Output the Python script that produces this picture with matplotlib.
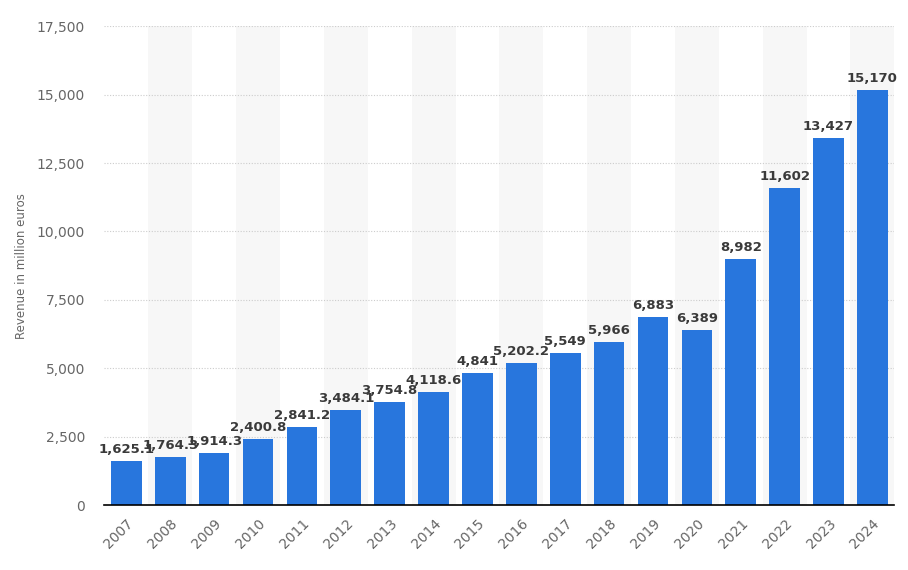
import matplotlib
matplotlib.use("Agg")
import matplotlib.pyplot as plt
import numpy as np

years = [str(y) for y in range(2007, 2025)]
revenue = [1625.1, 1764.3, 1914.3, 2400.8, 2841.2, 3484.1, 3754.8, 4118.6, 4841,
           5202.2, 5549, 5966, 6883, 6389, 8982, 11602, 13427, 15170]
labels = ["1,625.1", "1,764.3", "1,914.3", "2,400.8", "2,841.2", "3,484.1", "3,754.8",
          "4,118.6", "4,841", "5,202.2", "5,549", "5,966", "6,883", "6,389", "8,982",
          "11,602", "13,427", "15,170"]
yticks = [0, 2500, 5000, 7500, 10000, 12500, 15000, 17500]

plt.rcParams['font.family'] = ['DejaVu Sans']

fig = plt.figure(figsize=(9.08, 5.70), dpi=100)
ax = fig.add_axes([0.115, 0.114, 0.870, 0.840])

x = np.arange(len(years))

# light bands behind every other column
for i in x[1::2]:
    ax.axvspan(i - 0.5, i + 0.5, color='#f7f7f7', zorder=0, lw=0)

ax.bar(x, revenue, width=0.7, color='#2876dd', zorder=3)

for xi, v, s in zip(x, revenue, labels):
    ax.text(xi, v + 180, s, ha='center', va='bottom', fontsize=9.5,
            fontweight='bold', color='#3a3a3a', zorder=4)

ax.set_xlim(-0.5, len(years) - 0.5)
ax.set_ylim(0, 17500)
ax.set_yticks(yticks)
ax.set_yticklabels([f"{t:,}" for t in yticks])
ax.set_xticks(x)
ax.set_xticklabels(years, rotation=45, ha='right', rotation_mode='anchor')

ax.grid(axis='y', linestyle=(0, (1, 1.5)), color='#cccccc', linewidth=0.8, zorder=1)
ax.set_axisbelow(True)

for side in ['top', 'right', 'left']:
    ax.spines[side].set_visible(False)
ax.spines['bottom'].set_color('#000000')
ax.spines['bottom'].set_linewidth(1.2)
ax.spines['bottom'].set_zorder(5)

ax.tick_params(axis='both', length=0, labelsize=10, colors='#666666')
ax.tick_params(axis='y', pad=14)
ax.tick_params(axis='x', pad=8)

ax.set_ylabel('Revenue in million euros', fontsize=8.5, color='#666666', labelpad=6)

fig.savefig('out.png', dpi=100)
